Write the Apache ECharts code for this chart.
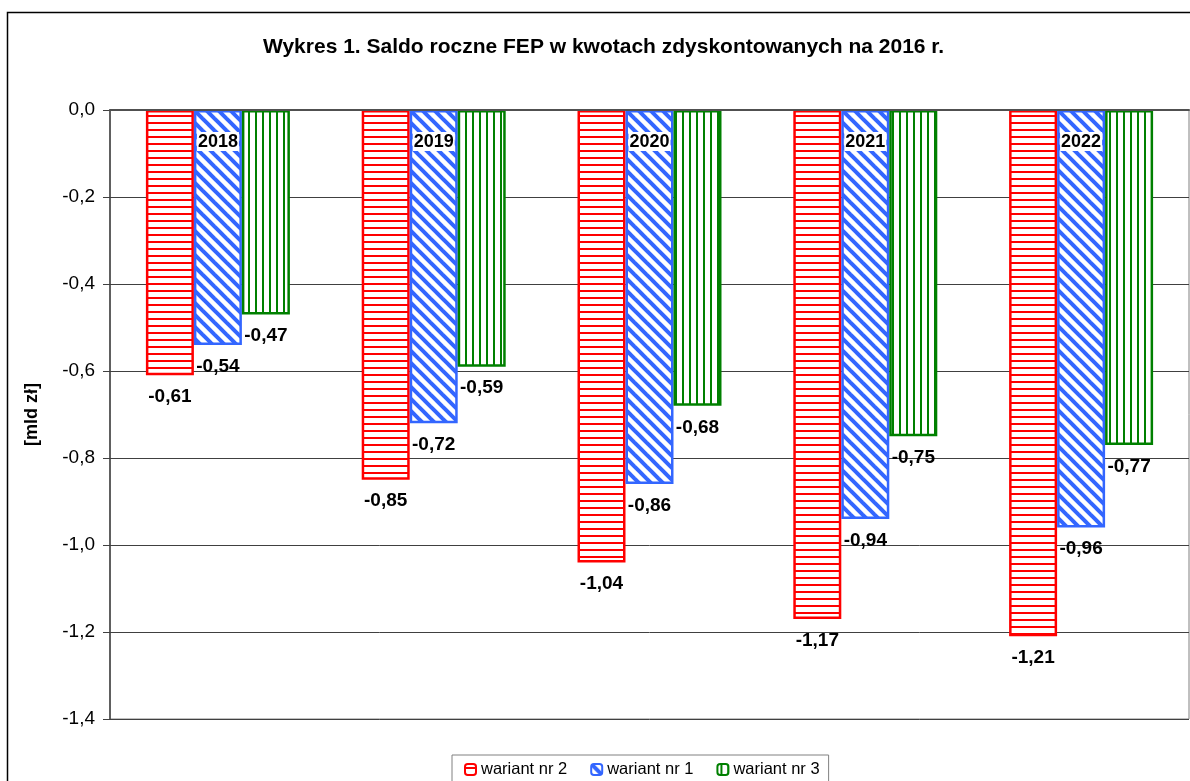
<!DOCTYPE html>
<html>
<head>
<meta charset="utf-8">
<script src="https://cdn.jsdelivr.net/npm/echarts@6/dist/echarts.min.js"></script>
<style>
html,body{margin:0;padding:0;background:#fff;}
#chart{width:1190px;height:781px;}
</style>
</head>
<body>
<div id="chart"></div>
<script>
var categories = ['2018', '2019', '2020', '2021', '2022'];
var seriesNames = ['wariant nr 2', 'wariant nr 1', 'wariant nr 3'];
var wariant2 = [-0.61, -0.85, -1.04, -1.17, -1.21];
var wariant1 = [-0.54, -0.72, -0.86, -0.94, -0.96];
var wariant3 = [-0.47, -0.59, -0.68, -0.75, -0.77];
var yTicks = [0, -0.2, -0.4, -0.6, -0.8, -1.0, -1.2, -1.4];

var RED = '#ff0000', BLUE = '#3366ff', GREEN = '#008000';

function makeCanvas(w, h) {
  var c = document.createElement('canvas');
  c.width = w; c.height = h;
  var ctx = c.getContext('2d');
  ctx.fillStyle = '#fff';
  ctx.fillRect(0, 0, w, h);
  return {c: c, ctx: ctx};
}
function hPattern(color) {
  var p = makeCanvas(8, 7);
  p.ctx.fillStyle = color;
  p.ctx.fillRect(0, 3, 8, 2);
  return {image: p.c, repeat: 'repeat'};
}
function dPattern(color) {
  var s = 12;
  var p = makeCanvas(s, s);
  p.ctx.strokeStyle = color;
  p.ctx.lineWidth = 4;
  for (var k = -1; k <= 1; k++) {
    p.ctx.beginPath();
    p.ctx.moveTo(-2, -2 + k * s);
    p.ctx.lineTo(s + 2, s + 2 + k * s);
    p.ctx.stroke();
  }
  return {image: p.c, repeat: 'repeat'};
}
function vPattern(color) {
  var p = makeCanvas(7, 8);
  p.ctx.fillStyle = color;
  p.ctx.fillRect(3, 0, 2, 8);
  return {image: p.c, repeat: 'repeat'};
}

function fmt2(v) { return v.toFixed(2).replace('.', ','); }
function fmt1(v) { return (Math.abs(v) < 1e-9 ? 0 : v).toFixed(1).replace('.', ','); }

var FONT = 'Liberation Sans, Arial, sans-serif';

function makeSeries(name, data, color, pattern) {
  return {
    name: name,
    type: 'bar',
    data: data,
    barWidth: 48,
    barGap: '0%',
    itemStyle: {color: pattern, borderColor: color, borderWidth: 2.5},
    label: {
      show: true,
      position: 'bottom',
      distance: 12,
      formatter: function (p) { return fmt2(p.value); },
      color: '#000',
      fontWeight: 'bold',
      fontSize: 19,
      fontFamily: FONT
    },
    emphasis: {disabled: true}
  };
}

var chart = echarts.init(document.getElementById('chart'));
chart.setOption({
  animation: false,
  backgroundColor: '#fff',
  textStyle: {fontFamily: FONT},
  title: {
    text: 'Wykres 1. Saldo roczne FEP w kwotach zdyskontowanych na 2016 r.',
    left: 263,
    top: 37,
    padding: 0,
    textStyle: {fontSize: 21, fontWeight: 'bold', color: '#000', fontFamily: FONT}
  },
  graphic: [{
    type: 'rect',
    shape: {x: 7.5, y: 12.5, width: 1300, height: 900},
    style: {fill: null, stroke: '#000', lineWidth: 1.5},
    silent: true,
    z: -1
  }],
  legend: {
    data: seriesNames,
    left: 452,
    top: 755,
    padding: [6, 9, 8, 12],
    itemWidth: 11,
    itemHeight: 11,
    itemGap: 23,
    borderColor: '#808080',
    borderWidth: 1,
    textStyle: {fontSize: 16.5, color: '#000', fontFamily: FONT}
  },
  grid: {
    left: 110, top: 110, right: 1, bottom: 62,
    show: true, borderColor: '#808080', borderWidth: 1,
    containLabel: false
  },
  xAxis: {
    type: 'category',
    data: categories,
    position: 'top',
    axisLine: {onZero: false, lineStyle: {color: '#505050', width: 2}},
    axisTick: {show: false},
    axisLabel: {
      inside: true,
      margin: 22,
      fontSize: 18,
      fontWeight: 'bold',
      color: '#000',
      backgroundColor: '#fff',
      padding: [1, 1, 0, 1],
      fontFamily: FONT
    },
    splitLine: {show: false},
    z: 10
  },
  yAxis: {
    type: 'value',
    min: -1.4,
    max: 0,
    interval: 0.2,
    name: '[mld zł]',
    nameLocation: 'middle',
    nameGap: 69,
    nameRotate: 90,
    nameTextStyle: {fontSize: 18, fontWeight: 'bold', color: '#000', fontFamily: FONT},
    axisLine: {show: true, lineStyle: {color: '#404040', width: 1.5}},
    axisTick: {show: true, length: 7, inside: false, lineStyle: {color: '#404040'}},
    axisLabel: {
      fontSize: 19,
      color: '#000',
      margin: 15,
      fontFamily: FONT,
      formatter: function (v) { return fmt1(v); }
    },
    splitLine: {show: true, lineStyle: {color: '#404040', width: 1}}
  },
  series: [
    makeSeries(seriesNames[0], wariant2, RED, hPattern(RED)),
    makeSeries(seriesNames[1], wariant1, BLUE, dPattern(BLUE)),
    makeSeries(seriesNames[2], wariant3, GREEN, vPattern(GREEN))
  ]
});
</script>
</body>
</html>
